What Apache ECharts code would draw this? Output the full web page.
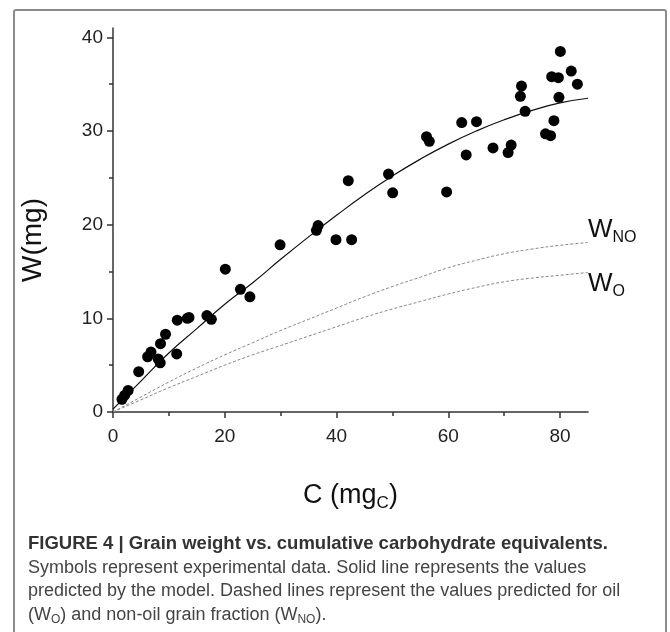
<!DOCTYPE html>
<html>
<head>
    <meta charset="utf-8">
    <title>Grain weight vs. cumulative carbohydrate equivalents</title>
    <script src="https://cdn.jsdelivr.net/npm/echarts@6.0.0/dist/echarts.min.js"></script>
    <style>
        body { margin: 0; padding: 0; background: #fff; overflow: hidden; }
        #chart { width: 670px; height: 632px; }
    </style>
</head>
<body>
    <div id="chart"></div>
    <script>
        // experimental points: C (mg_C) and W (mg)
        const pointC = [1.6, 2.1, 2.7, 4.6, 6.2, 6.8, 8.1, 8.45, 8.5, 9.4, 11.4, 11.5, 13.3, 13.6, 16.8, 17.6,
            20.1, 22.8, 24.5, 29.9, 36.4, 36.7, 39.9, 42.7, 42.1, 49.3, 50.05, 56.1, 56.6, 59.7, 62.4, 63.2,
            65.05, 68.0, 70.7, 71.25, 72.9, 73.1, 73.75, 77.4, 78.3, 78.5, 78.9, 79.7, 79.8, 80.05, 82.0, 83.1];
        const pointW = [1.35, 1.8, 2.3, 4.3, 5.9, 6.4, 5.65, 5.25, 7.3, 8.3, 6.2, 9.8, 10.0, 10.1, 10.3, 9.9,
            15.25, 13.1, 12.3, 17.85, 19.4, 19.9, 18.4, 18.4, 24.7, 25.4, 23.4, 29.4, 28.9, 23.5, 30.9, 27.45,
            31.0, 28.2, 27.7, 28.5, 33.7, 34.8, 32.1, 29.7, 29.5, 35.8, 31.1, 35.7, 33.6, 38.5, 36.4, 35.0];

        // model curves read at every 5 mg_C
        const curveC = [0, 5, 10, 15, 20, 25, 30, 35, 40, 45, 50, 55, 60, 65, 70, 75, 80, 85];
        const modelW = [0.3, 3.3, 6.3, 8.9, 11.5, 13.8, 16.3, 18.7, 21.0, 23.2, 25.2, 27.0, 28.6, 30.0, 31.2, 32.2, 33.0, 33.5];
        const noOilW = [0, 1.6, 3.2, 4.7, 6.1, 7.4, 8.7, 9.9, 11.1, 12.3, 13.4, 14.4, 15.4, 16.2, 16.9, 17.4, 17.8, 18.1];
        const oilW = [0, 1.3, 2.6, 3.8, 5.0, 6.1, 7.1, 8.1, 9.1, 10.1, 11.0, 11.8, 12.6, 13.3, 13.9, 14.3, 14.6, 14.9];

        const xTicks = [0, 20, 40, 60, 80];
        const xMinor = [10, 30, 50, 70];
        const yTicks = [0, 10, 20, 30, 40];
        const yMinor = [5, 15, 25, 35];

        const chart = echarts.init(document.getElementById('chart'));
        const font = 'Liberation Sans, Arial, sans-serif';
        const axisColor = '#333';

        const pair = (xs, ys) => xs.map((x, i) => [x, ys[i]]);

        const baseAxis = {
            type: 'value',
            axisLine: { show: true, lineStyle: { color: axisColor, width: 1.5 } },
            splitLine: { show: false }
        };

        const option = {
            animation: false,
            backgroundColor: '#fff',
            grid: { left: 113, right: 82, top: 28, bottom: 220 },
            xAxis: [
                Object.assign({}, baseAxis, {
                    min: 0, max: 85,
                    name: '{a|C (mg}{s|C}{a|)}',
                    nameLocation: 'middle',
                    nameGap: 68,
                    nameTextStyle: {
                        rich: {
                            a: { fontSize: 27, fontFamily: font, color: '#111' },
                            s: { fontSize: 17, fontFamily: font, color: '#111', padding: [15, 0, 0, 0] }
                        }
                    },
                    axisTick: { show: true, customValues: xTicks, length: 6, lineStyle: { color: axisColor, width: 1.5 } },
                    axisLabel: { customValues: xTicks, fontSize: 19, fontFamily: font, color: '#222', margin: 15 }
                }),
                Object.assign({}, baseAxis, {
                    min: 0, max: 85,
                    position: 'bottom',
                    axisLine: { show: false },
                    axisTick: { show: true, customValues: xMinor, length: 4, lineStyle: { color: axisColor, width: 1.5 } },
                    axisLabel: { show: false }
                })
            ],
            yAxis: [
                Object.assign({}, baseAxis, {
                    min: 0, max: 41,
                    name: 'W(mg)',
                    nameLocation: 'middle',
                    nameGap: 66,
                    nameTextStyle: { fontSize: 28, fontFamily: font, color: '#111', padding: [0, 40, 0, 0] },
                    axisTick: { show: true, customValues: yTicks, length: 6, lineStyle: { color: axisColor, width: 1.5 } },
                    axisLabel: { customValues: yTicks, fontSize: 19, fontFamily: font, color: '#222', margin: 10 }
                }),
                Object.assign({}, baseAxis, {
                    min: 0, max: 41,
                    position: 'left',
                    axisLine: { show: false },
                    axisTick: { show: true, customValues: yMinor, length: 4, lineStyle: { color: axisColor, width: 1.5 } },
                    axisLabel: { show: false }
                })
            ],
            series: [
                {
                    name: 'W_NO',
                    type: 'line',
                    data: pair(curveC, noOilW),
                    smooth: true,
                    showSymbol: false,
                    lineStyle: { color: '#888', width: 1, type: [3, 2] },
                    endLabel: {
                        show: true,
                        distance: 0,
                        formatter: '{w|W}{s|NO}',
                        offset: [0, -13],
                        rich: {
                            w: { fontSize: 26, fontFamily: font, color: '#111' },
                            s: { fontSize: 16, fontFamily: font, color: '#111', padding: [16, 0, 0, 0] }
                        }
                    },
                    z: 1
                },
                {
                    name: 'W_O',
                    type: 'line',
                    data: pair(curveC, oilW),
                    smooth: true,
                    showSymbol: false,
                    lineStyle: { color: '#888', width: 1, type: [3, 2] },
                    endLabel: {
                        show: true,
                        distance: 0,
                        formatter: '{w|W}{s|O}',
                        offset: [0, 11],
                        rich: {
                            w: { fontSize: 26, fontFamily: font, color: '#111' },
                            s: { fontSize: 16, fontFamily: font, color: '#111', padding: [16, 0, 0, 0] }
                        }
                    },
                    z: 1
                },
                {
                    name: 'model',
                    type: 'line',
                    data: pair(curveC, modelW),
                    smooth: true,
                    showSymbol: false,
                    lineStyle: { color: '#111', width: 1.2 },
                    z: 2
                },
                {
                    name: 'data',
                    type: 'scatter',
                    data: pair(pointC, pointW),
                    symbol: 'circle',
                    symbolSize: 11,
                    itemStyle: { color: '#000', opacity: 1 },
                    z: 3
                }
            ],
            graphic: [
                {
                    type: 'rect',
                    shape: { x: 14, y: 10, width: 652, height: 640, r: 2 },
                    style: { fill: 'none', stroke: '#8a8a8a', lineWidth: 2 },
                    silent: true
                },
                {
                    type: 'text',
                    left: 28, top: 534,
                    style: {
                        text: 'FIGURE 4 | Grain weight vs. cumulative carbohydrate equivalents.',
                        font: 'bold 18.5px ' + font,
                        fill: '#333'
                    }
                },
                {
                    type: 'text',
                    left: 28, top: 559,
                    style: {
                        text: '{t|Symbols represent experimental data. Solid line represents the values}\n' +
                            '{t|predicted by the model. Dashed lines represent the values predicted for oil}\n' +
                            '{t|(W}{s|O}{t|) and non-oil grain fraction (W}{s|NO}{t|).}',
                        fill: '#444',
                        rich: {
                            t: { fontSize: 18, fontFamily: font, color: '#444', lineHeight: 23.5 },
                            s: { fontSize: 12, fontFamily: font, color: '#444', lineHeight: 23.5, padding: [9, 0, 0, 0] }
                        }
                    }
                }
            ]
        };

        chart.setOption(option);
    </script>
</body>
</html>
